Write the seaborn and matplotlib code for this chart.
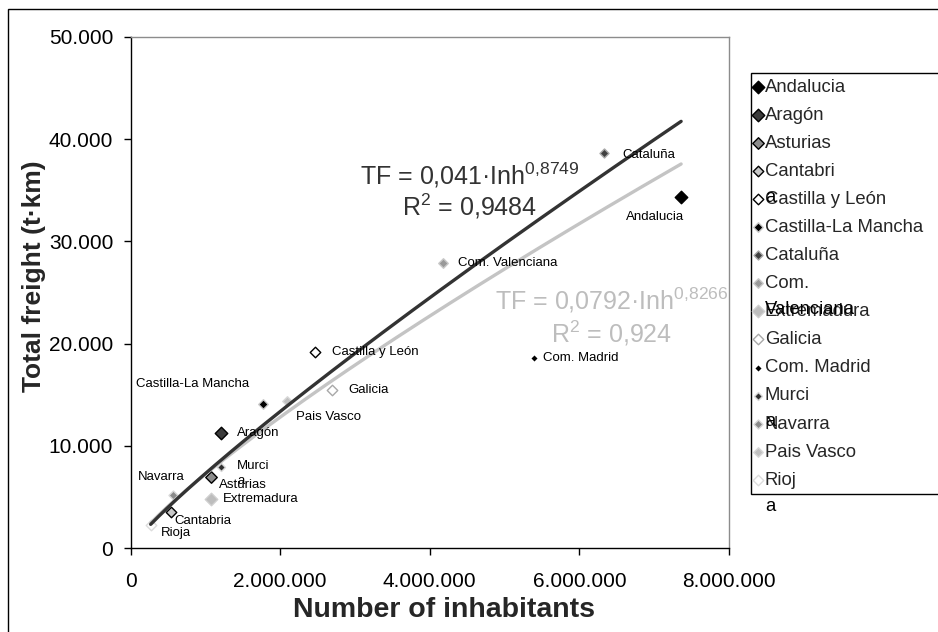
import numpy as np
import pandas as pd
import matplotlib
matplotlib.use("Agg")
import matplotlib.pyplot as plt
from matplotlib.ticker import FuncFormatter
from matplotlib.patches import Rectangle
import seaborn as sns

# ---------------- data ----------------
regions = ["Andalucia", "Aragón", "Asturias", "Cantabria", "Castilla y León",
           "Castilla-La Mancha", "Cataluña", "Com. Valenciana", "Extremadura",
           "Galicia", "Com. Madrid", "Murcia", "Navarra", "Pais Vasco", "Rioja"]
inhabitants = [7360000, 1206000, 1072000, 537000, 2467000,
               1767000, 6330000, 4174000, 1072000,
               2698000, 5394000, 1210000, 564000, 2088000, 270000]
freight = [34340, 11220, 6920, 3550, 19210,
           14060, 38680, 27860, 4820,
           15460, 18560, 7900, 5190, 14410, 2250]

# trend lines as printed on the chart (TF = a * Inh^b)
trend_a = [0.041, 0.0792]
trend_b = [0.8749, 0.8266]
trend_r2 = ["0,9484", "0,924"]
trend_a_txt = ["0,041", "0,0792"]
trend_b_txt = ["0,8749", "0,8266"]

x_ticks = [0, 2000000, 4000000, 6000000, 8000000]
y_ticks = [0, 10000, 20000, 30000, 40000, 50000]
x_title = "Number of inhabitants"
y_title = "Total freight (t·km)"

# ---------------- style ----------------
face_colors = ["#000000", "#3c3c3c", "#8c8c8c", "#c8c8c8", "#ffffff",
               "#000000", "#404040", "#999999", "#bdbdbd",
               "#ffffff", "#000000", "#303030", "#8a8a8a", "#c0c0c0", "#ffffff"]
edge_colors = ["#000000", "#000000", "#000000", "#000000", "#000000",
               "#c8c8c8", "#a8a8a8", "#c8c8c8", "#cfcfcf",
               "#a8a8a8", "#ffffff", "#d8d8d8", "#d8d8d8", "#d8d8d8", "#dcdcdc"]
marker_px = [12.5, 12.5, 11.5, 10.5, 10.5, 9.5, 9, 9.5, 12.5, 10.5, 8, 8, 9, 9.5, 10.5]

sns.set_style("white")
plt.rcParams["font.family"] = ["Liberation Sans", "DejaVu Sans"]
plt.rcParams["mathtext.fontset"] = "custom"
plt.rcParams["mathtext.rm"] = "Liberation Sans"
plt.rcParams["mathtext.it"] = "Liberation Sans"
plt.rcParams["mathtext.bf"] = "Liberation Sans:bold"

W, H = 938, 632
fig = plt.figure(figsize=(W / 100, H / 100), dpi=100)
fig.patch.set_facecolor("white")
L, R, T, B = 130.5, 729, 37, 548
ax = fig.add_axes([L / W, 1 - B / H, (R - L) / W, (B - T) / H])

df = pd.DataFrame({"region": regions, "inh": inhabitants, "tf": freight})

handles = []
for i, r in enumerate(regions):
    s = (marker_px[i] * 0.72 / 1.414) ** 2
    sns.scatterplot(data=df[df["region"] == r], x="inh", y="tf", marker="D",
                    s=s, color=face_colors[i], edgecolor=edge_colors[i],
                    linewidth=1.0, ax=ax, label=r, zorder=3, legend=False)
    handles.append(ax.collections[-1])

# trend lines
x_lo, x_hi = min(inhabitants), max(inhabitants)
xs = np.linspace(x_lo, x_hi, 200)
line_colors = ["#333333", "#c4c4c4"]
for k in range(2):
    tdf = pd.DataFrame({"inh": xs, "tf": trend_a[k] * xs ** trend_b[k]})
    sns.lineplot(data=tdf, x="inh", y="tf", color=line_colors[k], lw=2.4,
                 ax=ax, zorder=4 - k * 0.5, legend=False)

ax.set_xlim(0, 8000000)
ax.set_ylim(0, 50000)
ax.set_xticks(x_ticks)
ax.set_yticks(y_ticks)
fmt = FuncFormatter(lambda v, p: f"{int(round(v)):,}".replace(",", "."))
ax.xaxis.set_major_formatter(fmt)
ax.yaxis.set_major_formatter(fmt)
ax.tick_params(axis="both", which="major", bottom=True, left=True, top=False,
               right=False, direction="out", length=5, width=1, color="black",
               labelsize=15, labelcolor="black")
ax.tick_params(axis="y", pad=7.5)
ax.tick_params(axis="x", pad=12.5)
ax.set_xlabel("")
ax.set_ylabel("")
for side in ["left", "bottom"]:
    ax.spines[side].set_color("black")
    ax.spines[side].set_linewidth(1.0)
for side in ["top", "right"]:
    ax.spines[side].set_color("#8c8c8c")
    ax.spines[side].set_linewidth(1.0)
    ax.spines[side].set_visible(True)
ax.grid(False)

# axis titles
fig.text(444 / W, 1 - 610 / H, x_title, ha="center", va="center",
         fontsize=20.5, fontweight="bold")
fig.text(34 / W, 1 - 276 / H, y_title, ha="center", va="center",
         rotation=90, fontsize=19, fontweight="bold")

# data labels (offsets in pixels: dx, dy-down, ha, va)
label_pos = {
    "Andalucia": (-26, 20, "center", "center"),
    "Aragón": (16, 0, "left", "center"),
    "Asturias": (8, 8, "left", "center"),
    "Cantabria": (4, 9, "left", "center"),
    "Castilla y León": (17, 0, "left", "center"),
    "Castilla-La Mancha": (-70, -20, "center", "center"),
    "Cataluña": (18, 2, "left", "center"),
    "Com. Valenciana": (15, 0, "left", "center"),
    "Extremadura": (12, 0, "left", "center"),
    "Galicia": (16, 0, "left", "center"),
    "Com. Madrid": (9, 0, "left", "center"),
    "Murcia": (16, -7, "left", "top"),
    "Navarra": (-11, -18, "center", "center"),
    "Pais Vasco": (9, 16, "left", "center"),
    "Rioja": (10, 8, "left", "center"),
}
label_text = {"Murcia": "Murci\na"}
for i, r in enumerate(regions):
    dx, dy, ha, va = label_pos[r]
    ax.annotate(label_text.get(r, r), (inhabitants[i], freight[i]),
                xytext=(dx * 0.72, -dy * 0.72), textcoords="offset points",
                ha=ha, va=va, fontsize=9.5, color="black", zorder=5,
                linespacing=1.25)

# trend-line equations
eq_pos = [(470, 175, 206), (612, 300, 333)]
eq_colors = ["#333333", "#bdbdbd"]
for k in range(2):
    cx, y1, y2 = eq_pos[k]
    fig.text(cx / W, 1 - y1 / H,
             f"TF = {trend_a_txt[k]}·Inh" + r"$^{" + trend_b_txt[k].replace(",", "{,}") + r"}$",
             ha="center", va="center", fontsize=18, color=eq_colors[k])
    fig.text(cx / W, 1 - y2 / H, r"R$^{2}$" + f" = {trend_r2[k]}",
             ha="center", va="center", fontsize=18, color=eq_colors[k])

# legend with Excel-like wrapped labels
wrap_at = {"Cantabria": 8, "Com. Valenciana": 4, "Murcia": 5, "Rioja": 4}
leg_labels = [r[:wrap_at[r]] if r in wrap_at else r for r in regions]
leg = ax.legend(handles, leg_labels, loc="upper left",
                bbox_to_anchor=(751 / W, 1 - 73 / H, 205 / W, 0),
                bbox_transform=fig.transFigure, mode="expand",
                frameon=True, fancybox=False, edgecolor="black", framealpha=1,
                fontsize=13.3, handlelength=0.15, handletextpad=0.3,
                borderpad=0.3, labelspacing=0.6, borderaxespad=0)
leg.get_frame().set_linewidth(1.0)
for t, r in zip(leg.get_texts(), regions):
    if r in wrap_at:
        tail = r[wrap_at[r]:].strip()
        ax.annotate(tail, xy=(0, 0), xycoords=t, xytext=(0, -6.5),
                    textcoords="offset points", ha="left", va="top",
                    fontsize=13.3, color="black", annotation_clip=False, zorder=10)

# outer chart border
fig.patches.append(Rectangle((8 / W, -0.1), 2, 1.1 - 9 / H, transform=fig.transFigure,
                             fill=False, edgecolor="black", lw=1.0, zorder=0))

fig.savefig("out.png", dpi=100)
